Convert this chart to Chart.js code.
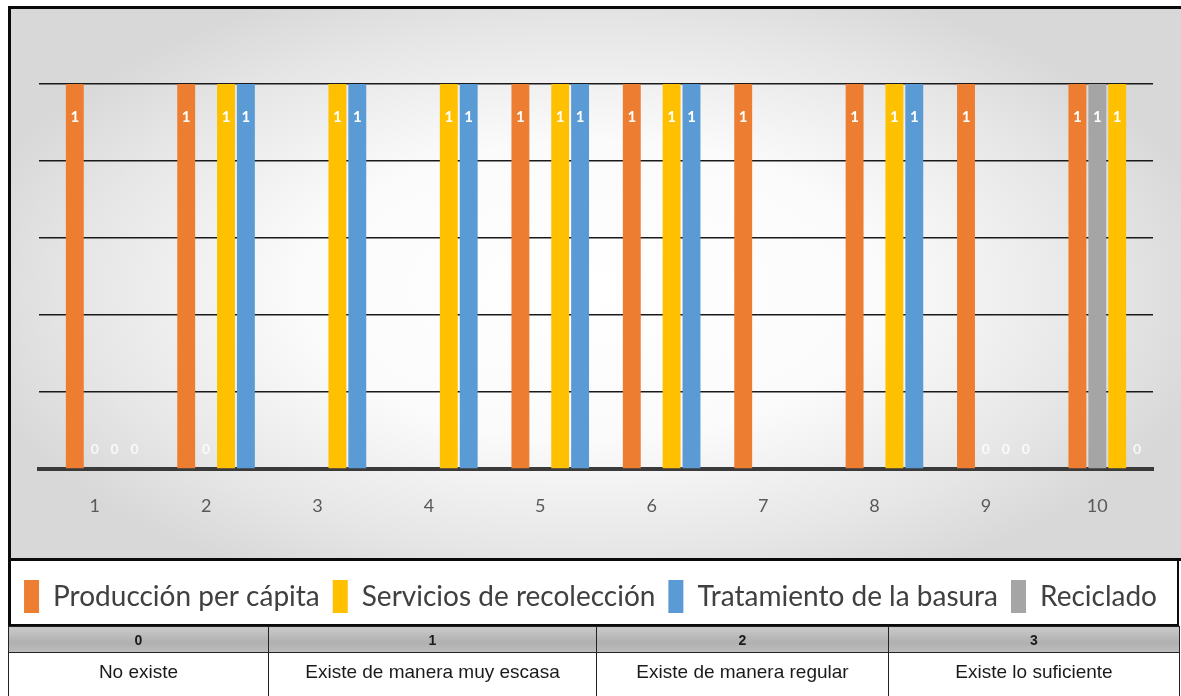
<!DOCTYPE html>
<html>
<head>
<meta charset="utf-8">
<script src="https://cdn.jsdelivr.net/npm/chart.js@4.4.1/dist/chart.umd.min.js"></script>
<style>
  html, body { margin: 0; padding: 0; background: #ffffff; }
  #wrap { position: relative; width: 1181px; height: 696px; overflow: hidden; }
  #cv { position: absolute; left: 0; top: 0; }
  #tbl { position: absolute; left: 8px; top: 626px; width: 1171px; border-collapse: collapse;
         font-family: "Liberation Sans", Arial, sans-serif; table-layout: fixed; }
  #tbl td { border: 1.5px solid #222; text-align: center; padding: 0; color: #1a1a1a; }
  #tbl tr.h td { height: 25px; font-weight: bold; font-size: 14px;
                 background: linear-gradient(#c9c9c9, #b0b0b0 60%, #bdbdbd); }
  #tbl tr.b td { height: 44px; font-size: 19px; vertical-align: top; padding-top: 8px; background: #fff; }
</style>
</head>
<body>
<div id="wrap">
  <canvas id="cv" width="1181" height="628"></canvas>
  <table id="tbl">
    <colgroup><col style="width:260px"><col style="width:328px"><col style="width:292px"><col style="width:291px"></colgroup>
    <tr class="h" id="scaleKeys"></tr>
    <tr class="b" id="scaleTexts"></tr>
  </table>
</div>
<script>
// ---- data ----
const categories = ['1', '2', '3', '4', '5', '6', '7', '8', '9', '10'];
const produccion   = [1, 1, null, null, 1, 1, 1, 1, 1, 1];
const reciclado    = [0, 0, null, null, null, null, null, null, 0, 1];
const servicios    = [0, 1, 1, 1, 1, 1, null, 1, 0, 1];
const tratamiento  = [0, 1, 1, 1, 1, 1, null, 1, 0, 0];
const spacer       = [null, null, null, null, null, null, null, null, null, null];
const seriesNames  = ['Producción per cápita', 'Reciclado', 'Servicios de recolección', 'Tratamiento de la basura'];
const legendOrder  = ['Producción per cápita', 'Servicios de recolección', 'Tratamiento de la basura', 'Reciclado'];
const yTicks       = [0, 0.2, 0.4, 0.6, 0.8, 1];
const scaleKeys    = ['0', '1', '2', '3'];
const scaleTexts   = ['No existe', 'Existe de manera muy escasa', 'Existe de manera regular', 'Existe lo suficiente'];

// table
document.getElementById('scaleKeys').innerHTML = scaleKeys.map(k => '<td>' + k + '</td>').join('');
document.getElementById('scaleTexts').innerHTML = scaleTexts.map(k => '<td>' + k + '</td>').join('');

const colors = {
  'Producción per cápita': '#ED7D31',
  'Reciclado': '#A5A5A5',
  'Servicios de recolección': '#FFC000',
  'Tratamiento de la basura': '#5B9BD5'
};

const frame = {
  id: 'frame',
  beforeDraw(chart) {
    const ctx = chart.ctx;
    ctx.save();
    const cx = 590, cy = 290, rx = 640, ry = 330;
    ctx.save();
    ctx.beginPath();
    ctx.rect(10, 9, 1171, 549);
    ctx.clip();
    ctx.translate(cx, cy);
    ctx.scale(1, ry / rx);
    const g = ctx.createRadialGradient(0, 0, 0, 0, 0, rx);
    g.addColorStop(0, '#ffffff');
    g.addColorStop(0.45, '#fbfbfb');
    g.addColorStop(0.8, '#e6e6e6');
    g.addColorStop(1, '#d8d8d8');
    ctx.fillStyle = g;
    ctx.fillRect(-rx * 2, -rx * 2, rx * 4, rx * 4);
    ctx.restore();
    ctx.fillStyle = '#ffffff';
    ctx.fillRect(10, 561, 1168, 64);
    ctx.restore();
  },
  afterDraw(chart) {
    const ctx = chart.ctx;
    ctx.save();
    ctx.fillStyle = '#0a0a0a';
    ctx.fillRect(8, 6, 1173, 3);
    ctx.fillRect(8, 6, 3, 620);
    ctx.fillRect(8, 558, 1173, 3);
    ctx.fillRect(8, 624, 1171, 2);
    ctx.fillRect(1177, 558, 2, 68);
    ctx.restore();
  }
};

const valueLabels = {
  id: 'valueLabels',
  afterDatasetsDraw(chart) {
    const ctx = chart.ctx;
    const base = chart.scales.y.getPixelForValue(0);
    ctx.save();
    ctx.textAlign = 'center';
    ctx.textBaseline = 'middle';
    chart.data.datasets.forEach((ds, di) => {
      if (ds.isSpacer) return;
      const meta = chart.getDatasetMeta(di);
      meta.data.forEach((el, i) => {
        const v = ds.data[i];
        if (v === null || v === undefined) return;
        if (v === 0) {
          ctx.fillStyle = 'rgba(255,255,255,0.8)';
          ctx.font = 'bold 14px Lato, "Liberation Sans", sans-serif';
          ctx.fillText(String(v), el.x, base - 20);
        } else {
          ctx.fillStyle = '#ffffff';
          ctx.font = 'bold 15px Lato, "Liberation Sans", sans-serif';
          ctx.fillText(String(v), el.x, el.y + 33);
        }
      });
    });
    ctx.restore();
  }
};

const datasets = [
  { label: '', data: spacer, isSpacer: true, backgroundColor: 'rgba(0,0,0,0)' }
].concat(seriesNames.map(name => ({
  label: name,
  data: ({ 'Producción per cápita': produccion, 'Reciclado': reciclado,
           'Servicios de recolección': servicios, 'Tratamiento de la basura': tratamiento })[name],
  backgroundColor: colors[name],
  borderWidth: 0
})));

new Chart(document.getElementById('cv'), {
  type: 'bar',
  data: { labels: categories, datasets },
  options: {
    responsive: false,
    animation: false,
    categoryPercentage: 0.893,
    barPercentage: 0.9,
    layout: { padding: { left: 6, right: 6, top: 84, bottom: 5 } },
    plugins: {
      tooltip: { enabled: false },
      legend: {
        position: 'bottom',
        labels: {
          filter: (item) => item.text !== '',
          sort: (a, b) => legendOrder.indexOf(a.text) - legendOrder.indexOf(b.text),
          boxWidth: 15,
          boxHeight: 33,
          padding: 13,
          color: '#404040',
          font: { family: 'Lato, "Liberation Sans", sans-serif', size: 28 }
        }
      }
    },
    scales: {
      x: {
        grid: { display: false, drawTicks: false },
        border: { display: true, color: '#3a3a3a', width: 4 },
        ticks: { color: '#595959', padding: 26, font: { family: 'Lato, "Liberation Sans", sans-serif', size: 18 } },
        afterFit: (s) => { s.height = 98; }
      },
      y: {
        position: 'left',
        min: 0, max: 1,
        afterBuildTicks: (s) => { s.ticks = yTicks.map(v => ({ value: v })); },
        ticks: { display: false },
        grid: { color: '#1a1a1a', lineWidth: 1.5, drawTicks: false },
        border: { display: false },
        afterFit: (s) => { s.width = 33; }
      },
      yRight: {
        position: 'right',
        min: 0, max: 1,
        ticks: { display: false },
        grid: { display: false, drawTicks: false },
        border: { display: false },
        afterFit: (s) => { s.width = 22; }
      }
    }
  },
  plugins: [frame, valueLabels]
});
</script>
</body>
</html>
